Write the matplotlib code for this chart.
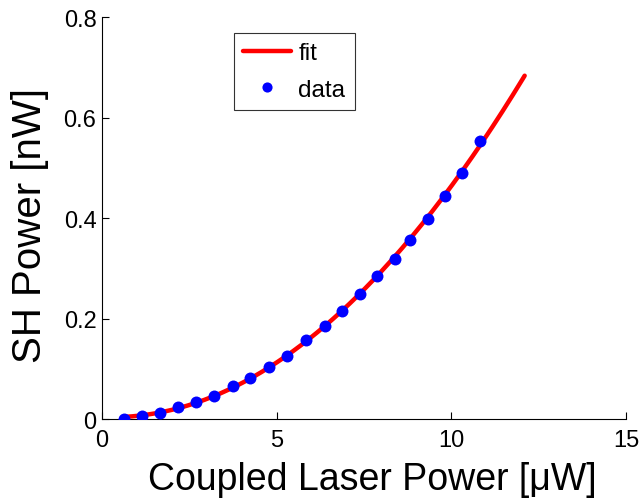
import numpy as np
import matplotlib
matplotlib.use("Agg")
import matplotlib.pyplot as plt

# Measured data (coupled laser power in uW, SH power in nW)
x_data = [0.63, 1.15, 1.67, 2.18, 2.70, 3.21, 3.74, 4.25, 4.78, 5.30,
          5.83, 6.37, 6.87, 7.38, 7.88, 8.38, 8.82, 9.32, 9.81, 10.30, 10.81]
y_data = [0.001, 0.007, 0.012, 0.023, 0.034, 0.046, 0.065, 0.082, 0.104, 0.126,
          0.157, 0.186, 0.214, 0.249, 0.284, 0.319, 0.356, 0.399, 0.443, 0.490, 0.553]
fit_range = [0.63, 12.1]

xticks = [0, 5, 10, 15]
yticks = [0, 0.2, 0.4, 0.6, 0.8]
ytick_labels = ["0", "0.2", "0.4", "0.6", "0.8"]

plt.rcParams['font.family'] = ['Liberation Sans', 'DejaVu Sans']

fig = plt.figure(figsize=(6.39, 5.02), dpi=100)
ax = fig.add_axes([0.1596, 0.1633, 0.8200, 0.8008])

coef = np.polyfit(x_data, y_data, 2)
xf = np.linspace(fit_range[0], fit_range[1], 200)
yf = np.polyval(coef, xf)

ax.plot(xf, yf, color='#ff0000', lw=3.2, label='fit', solid_capstyle='round', zorder=2)
ax.plot(x_data, y_data, 'o', color='#0000ff', ms=8.6, mec='none', label='data', zorder=3)

ax.set_xlim(0, 15)
ax.set_ylim(0, 0.8)
ax.set_xticks(xticks)
ax.set_xticklabels([str(t) for t in xticks])
ax.set_yticks(yticks)
ax.set_yticklabels(ytick_labels)
ax.tick_params(direction='in', length=5, width=0.8, labelsize=17)
ax.tick_params(axis='x', pad=7)
ax.tick_params(axis='y', pad=4)
for s in ['top', 'right']:
    ax.spines[s].set_visible(False)
for s in ['left', 'bottom']:
    ax.spines[s].set_linewidth(0.8)

ax.set_xlabel('Coupled Laser Power [\u03bcW]', fontsize=27, va='baseline')
ax.xaxis.set_label_coords(0.515, -0.174)
ax.set_ylabel('SH Power [nW]', fontsize=29, va='center')
ax.yaxis.set_label_coords(-0.137, 0.483)

leg = ax.legend(loc='upper left', bbox_to_anchor=(0.252, 0.96), fontsize=17.5,
                frameon=True, fancybox=False, edgecolor='black', handlelength=1.97,
                borderpad=0.38, borderaxespad=0, labelspacing=0.6, handletextpad=0.3,
                markerscale=0.85)
leg.get_frame().set_linewidth(0.8)

fig.savefig('out.png', dpi=100)
